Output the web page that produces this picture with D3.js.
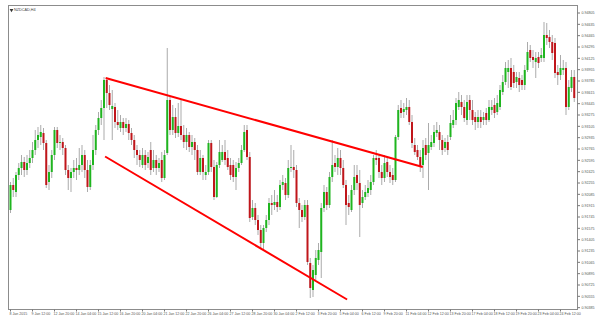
<!DOCTYPE html>
<html>
<head>
<meta charset="utf-8">
<script src="https://cdn.jsdelivr.net/npm/d3@7"></script>
<style>
  body { margin: 0; background: #fff; }
  text { font-family: Arial, "Liberation Sans", sans-serif; }
</style>
</head>
<body>
<div id="chart"></div>
<script>
// chart values
const symbol = "NZDCAD,H4";

// one label every 8 bars, first bar is 8 Jan 04:00
const timeLabels = ["8 Jan 2015", "9 Jan 12:00", "12 Jan 20:00", "14 Jan 04:00", "15 Jan 12:00",
    "16 Jan 20:00", "20 Jan 04:00", "21 Jan 12:00", "22 Jan 20:00", "26 Jan 04:00", "27 Jan 12:00",
    "28 Jan 20:00", "30 Jan 04:00", "2 Feb 12:00", "3 Feb 20:00", "5 Feb 04:00", "6 Feb 12:00",
    "9 Feb 20:00", "11 Feb 04:00", "12 Feb 12:00", "13 Feb 20:00", "17 Feb 04:00", "18 Feb 12:00",
    "19 Feb 20:00", "23 Feb 04:00", "24 Feb 12:00"];
const barsPerLabel = 8;

const priceTicks = [0.94805, 0.94635, 0.94465, 0.94295, 0.94125, 0.93955, 0.93785, 0.93615, 0.93445,
    0.93275, 0.93105, 0.92935, 0.92765, 0.92595, 0.92425, 0.92255, 0.92085, 0.91915, 0.91745,
    0.91575, 0.91405, 0.91235, 0.91065, 0.90895, 0.90725, 0.90555, 0.90385];

const open = [
    0.91850, 0.92225, 0.92120, 0.92375, 0.92480, 0.92570, 0.92450, 0.92555, 0.92630, 0.92750,
    0.92900, 0.92945, 0.93005, 0.92855, 0.92270, 0.92420, 0.92675, 0.93050, 0.92855, 0.92870,
    0.92780, 0.92450, 0.92330, 0.92420, 0.92480, 0.92450, 0.92525, 0.92675, 0.92450, 0.92195,
    0.92525, 0.92750, 0.93050, 0.93230, 0.93380, 0.93800, 0.93605, 0.93365, 0.93395, 0.93170,
    0.93080, 0.93170, 0.93080, 0.93140, 0.93005, 0.92900, 0.92750, 0.92675, 0.92525, 0.92675,
    0.92555, 0.92750, 0.92480, 0.92600, 0.92480, 0.92600, 0.92330, 0.92705, 0.93500, 0.93050,
    0.93245, 0.93005, 0.93110, 0.92975, 0.92870, 0.92975, 0.92795, 0.92870, 0.92750, 0.92420,
    0.92630, 0.92375, 0.92420, 0.92855, 0.92495, 0.92045, 0.92525, 0.92600, 0.92720, 0.92630,
    0.92525, 0.92525, 0.92345, 0.92480, 0.92555, 0.92750, 0.93050, 0.92645, 0.91745, 0.91880,
    0.91700, 0.91550, 0.91355, 0.91580, 0.91700, 0.91955, 0.91925, 0.91970, 0.91895, 0.92225,
    0.92255, 0.92075, 0.92480, 0.92495, 0.92450, 0.91955, 0.91850, 0.91745, 0.91925, 0.91055,
    0.90650, 0.90875, 0.91100, 0.91220, 0.91880, 0.92120, 0.91925, 0.92345, 0.92555, 0.92495,
    0.92630, 0.92480, 0.92225, 0.91955, 0.91850, 0.92150, 0.92375, 0.92255, 0.91955, 0.92045,
    0.92105, 0.92150, 0.92270, 0.92630, 0.92630, 0.92420, 0.92330, 0.92570, 0.92420, 0.92375,
    0.92300, 0.92945, 0.93380, 0.93320, 0.93350, 0.93395, 0.93170, 0.92825, 0.92750, 0.92645,
    0.92525, 0.92825, 0.92705, 0.92795, 0.92855, 0.93005, 0.93020, 0.92900, 0.92780, 0.92870,
    0.92945, 0.93125, 0.93200, 0.93395, 0.93470, 0.93395, 0.93200, 0.93500, 0.93350, 0.93245,
    0.93170, 0.93245, 0.93200, 0.93305, 0.93200, 0.93350, 0.93425, 0.93320, 0.93395, 0.93620,
    0.93770, 0.93920, 0.93980, 0.93920, 0.93770, 0.93830, 0.93800, 0.93725, 0.93950, 0.94250,
    0.94145, 0.94070, 0.94145, 0.94130, 0.94130, 0.94475, 0.94445, 0.94370, 0.94355, 0.93920,
    0.93875, 0.93950, 0.93980, 0.93395, 0.93680, 0.93845];

const high = [
    0.92270, 0.92330, 0.92420, 0.92555, 0.92675, 0.92645, 0.92675, 0.92750, 0.92870, 0.93050,
    0.93095, 0.93125, 0.93080, 0.92900, 0.92525, 0.92750, 0.93095, 0.93095, 0.92975, 0.92930,
    0.92825, 0.92525, 0.92480, 0.92600, 0.92630, 0.92780, 0.92825, 0.92750, 0.92600, 0.92600,
    0.92975, 0.93125, 0.93320, 0.93500, 0.93845, 0.93830, 0.93725, 0.93650, 0.93455, 0.93350,
    0.93275, 0.93230, 0.93230, 0.93200, 0.93080, 0.92975, 0.92825, 0.92750, 0.92780, 0.92750,
    0.92720, 0.92870, 0.92750, 0.92675, 0.92630, 0.92720, 0.92750, 0.94280, 0.93545, 0.93425,
    0.93380, 0.93455, 0.93500, 0.93125, 0.93080, 0.93020, 0.92975, 0.92930, 0.92825, 0.92750,
    0.92675, 0.92525, 0.92900, 0.92900, 0.92600, 0.92570, 0.92900, 0.92825, 0.92900, 0.92750,
    0.92630, 0.92600, 0.92570, 0.92630, 0.92825, 0.93125, 0.93125, 0.92720, 0.92000, 0.91955,
    0.91775, 0.91625, 0.91625, 0.91775, 0.92030, 0.92075, 0.92150, 0.92075, 0.92300, 0.92375,
    0.92330, 0.92600, 0.92825, 0.92750, 0.92525, 0.92030, 0.91925, 0.92000, 0.92000, 0.91130,
    0.91025, 0.91250, 0.91355, 0.91955, 0.92225, 0.92195, 0.92420, 0.92900, 0.92675, 0.92780,
    0.92750, 0.92600, 0.92300, 0.92075, 0.92225, 0.92525, 0.92525, 0.92450, 0.92150, 0.92225,
    0.92300, 0.92375, 0.92675, 0.92750, 0.92675, 0.92525, 0.92675, 0.92630, 0.92525, 0.92480,
    0.92975, 0.93425, 0.93500, 0.93455, 0.93530, 0.93500, 0.93275, 0.92930, 0.92825, 0.92750,
    0.92900, 0.92930, 0.93155, 0.92975, 0.93125, 0.93170, 0.93125, 0.92975, 0.92930, 0.92975,
    0.93275, 0.93350, 0.93530, 0.93620, 0.93575, 0.93500, 0.93575, 0.93575, 0.93500, 0.93320,
    0.93350, 0.93350, 0.93320, 0.93380, 0.93500, 0.93500, 0.93530, 0.93575, 0.93725, 0.93875,
    0.94070, 0.94100, 0.94130, 0.94025, 0.93920, 0.93920, 0.93875, 0.94025, 0.94370, 0.94325,
    0.94250, 0.94220, 0.94220, 0.94280, 0.94670, 0.94655, 0.94550, 0.94475, 0.94430, 0.94025,
    0.94175, 0.94100, 0.94070, 0.93800, 0.93950, 0.93950];

const low = [
    0.91805, 0.92045, 0.92045, 0.92300, 0.92375, 0.92345, 0.92375, 0.92480, 0.92555, 0.92675,
    0.92780, 0.92825, 0.92750, 0.92180, 0.92150, 0.92330, 0.92600, 0.92780, 0.92750, 0.92675,
    0.92375, 0.92150, 0.92120, 0.92330, 0.92300, 0.92375, 0.92420, 0.92330, 0.92120, 0.92150,
    0.92450, 0.92675, 0.92975, 0.93125, 0.92900, 0.93380, 0.93350, 0.92900, 0.93080, 0.93050,
    0.93020, 0.92975, 0.93020, 0.92900, 0.92825, 0.92630, 0.92525, 0.92495, 0.92480, 0.92450,
    0.92480, 0.92375, 0.92420, 0.92375, 0.92420, 0.92270, 0.92300, 0.92675, 0.92975, 0.92975,
    0.92930, 0.92945, 0.92900, 0.92780, 0.92750, 0.92720, 0.92675, 0.92600, 0.92375, 0.92375,
    0.92300, 0.92300, 0.92375, 0.92420, 0.92000, 0.92030, 0.92480, 0.92570, 0.92525, 0.92450,
    0.92300, 0.92270, 0.92150, 0.92420, 0.92525, 0.92720, 0.92600, 0.91670, 0.91700, 0.91625,
    0.91475, 0.91280, 0.91250, 0.91520, 0.91625, 0.91775, 0.91850, 0.91820, 0.91850, 0.92150,
    0.92000, 0.92030, 0.92420, 0.92330, 0.91895, 0.91580, 0.91670, 0.91700, 0.91025, 0.90530,
    0.90545, 0.90800, 0.91025, 0.90830, 0.91820, 0.91850, 0.91880, 0.92270, 0.92420, 0.92375,
    0.92375, 0.92180, 0.91625, 0.91775, 0.91820, 0.92075, 0.92150, 0.91445, 0.91880, 0.92000,
    0.92045, 0.92075, 0.92225, 0.92525, 0.92330, 0.92225, 0.92270, 0.92345, 0.92255, 0.92225,
    0.92270, 0.92900, 0.93230, 0.93230, 0.93275, 0.93125, 0.92780, 0.92675, 0.92600, 0.92420,
    0.92330, 0.92600, 0.92150, 0.92750, 0.92795, 0.92945, 0.92750, 0.92675, 0.92720, 0.92675,
    0.92900, 0.93080, 0.93125, 0.93350, 0.93275, 0.93170, 0.93125, 0.93200, 0.93125, 0.93050,
    0.93080, 0.93080, 0.93125, 0.93125, 0.93170, 0.93275, 0.93230, 0.93275, 0.93350, 0.93575,
    0.93725, 0.93680, 0.93650, 0.93680, 0.93680, 0.93620, 0.93650, 0.93650, 0.93920, 0.94070,
    0.93980, 0.93830, 0.93980, 0.94070, 0.94070, 0.94325, 0.94280, 0.94100, 0.93830, 0.93725,
    0.93800, 0.93875, 0.93275, 0.93350, 0.93620, 0.93470];

const close = [
    0.92225, 0.92150, 0.92375, 0.92480, 0.92570, 0.92450, 0.92555, 0.92630, 0.92750, 0.92900,
    0.92975, 0.93020, 0.92855, 0.92225, 0.92420, 0.92675, 0.93050, 0.92855, 0.92870, 0.92780,
    0.92450, 0.92330, 0.92420, 0.92480, 0.92450, 0.92525, 0.92675, 0.92450, 0.92195, 0.92525,
    0.92750, 0.93050, 0.93230, 0.93380, 0.93800, 0.93605, 0.93425, 0.93410, 0.93170, 0.93125,
    0.93170, 0.93080, 0.93140, 0.93005, 0.92900, 0.92750, 0.92675, 0.92600, 0.92675, 0.92525,
    0.92645, 0.92450, 0.92600, 0.92480, 0.92555, 0.92330, 0.92675, 0.93500, 0.93050, 0.93245,
    0.93005, 0.93110, 0.92975, 0.92870, 0.92975, 0.92795, 0.92870, 0.92750, 0.92420, 0.92630,
    0.92420, 0.92420, 0.92855, 0.92495, 0.92045, 0.92525, 0.92720, 0.92720, 0.92600, 0.92495,
    0.92375, 0.92345, 0.92480, 0.92555, 0.92750, 0.93020, 0.92645, 0.91730, 0.91880, 0.91700,
    0.91550, 0.91355, 0.91580, 0.91700, 0.91955, 0.91925, 0.91970, 0.91895, 0.92225, 0.92270,
    0.92075, 0.92480, 0.92495, 0.92450, 0.91955, 0.91850, 0.91745, 0.91925, 0.91070, 0.90680,
    0.90950, 0.91130, 0.91250, 0.91880, 0.92120, 0.91925, 0.92345, 0.92525, 0.92495, 0.92630,
    0.92480, 0.92225, 0.91925, 0.91895, 0.92150, 0.92345, 0.92255, 0.91925, 0.92045, 0.92120,
    0.92180, 0.92270, 0.92630, 0.92600, 0.92420, 0.92330, 0.92555, 0.92420, 0.92345, 0.92300,
    0.92945, 0.93350, 0.93305, 0.93365, 0.93395, 0.93170, 0.92855, 0.92720, 0.92645, 0.92495,
    0.92780, 0.92675, 0.92825, 0.92870, 0.93020, 0.93050, 0.92900, 0.92750, 0.92870, 0.92750,
    0.93155, 0.93200, 0.93455, 0.93500, 0.93395, 0.93230, 0.93470, 0.93350, 0.93200, 0.93170,
    0.93245, 0.93170, 0.93245, 0.93200, 0.93395, 0.93395, 0.93305, 0.93455, 0.93650, 0.93770,
    0.93980, 0.93980, 0.93695, 0.93755, 0.93845, 0.93725, 0.93725, 0.93950, 0.94220, 0.94130,
    0.94100, 0.94130, 0.94055, 0.94175, 0.94475, 0.94430, 0.94370, 0.94205, 0.93905, 0.93875,
    0.93980, 0.93980, 0.93395, 0.93695, 0.93845, 0.93530];

// trend lines drawn on the chart: [bar index, price]
const upperTrend = [[34.6, 0.93830], [149.9, 0.92495]];
const lowerTrend = [[34.4, 0.926525], [122.4, 0.905075]];

// set the dimensions of the chart
const width = 600, height = 323;
const frame = { left: 8.5, top: 5.5, right: 577.5, bottom: 309.5 };

const svg = d3.select("#chart")
    .append("svg")
    .attr("width", width)
    .attr("height", height);

const bars = open.map((o, i) => ({ i, o, h: high[i], l: low[i], c: close[i] }));

// bar index -> x, price -> y
const x = d3.scaleLinear()
    .domain([0, 200])
    .range([10.5, 560.5]);
const y = d3.scaleLinear()
    .domain([0.90365, 0.95])
    .range([309, 0]);

// frame
svg.append("rect")
    .attr("x", frame.left)
    .attr("y", frame.top)
    .attr("width", frame.right - frame.left)
    .attr("height", frame.bottom - frame.top)
    .attr("fill", "none")
    .attr("stroke", "#8c8c8c")
    .attr("stroke-width", 1);

// wicks
svg.selectAll(".wick")
    .data(bars)
    .join("line")
    .attr("class", "wick")
    .attr("x1", d => x(d.i))
    .attr("x2", d => x(d.i))
    .attr("y1", d => y(d.h))
    .attr("y2", d => y(d.l))
    .attr("stroke", "#ababab")
    .attr("stroke-width", 1);

// bodies
svg.selectAll(".body")
    .data(bars)
    .join("rect")
    .attr("class", "body")
    .attr("x", d => x(d.i) - 1)
    .attr("width", 2)
    .attr("y", d => y(Math.max(d.o, d.c)))
    .attr("height", d => Math.max(1, Math.abs(y(d.o) - y(d.c))))
    .attr("fill", d => d.c >= d.o ? "#1fb51f" : "#c0161b");

// trend lines
const line = d3.line()
    .x(d => x(d[0]))
    .y(d => y(d[1]));
svg.selectAll(".trend")
    .data([upperTrend, lowerTrend])
    .join("path")
    .attr("class", "trend")
    .attr("d", line)
    .attr("fill", "none")
    .attr("stroke", "#ff0000")
    .attr("stroke-width", 2);

// price axis on the right
const yAxis = svg.append("g");
yAxis.selectAll("line")
    .data(priceTicks)
    .join("line")
    .attr("x1", frame.right)
    .attr("x2", frame.right + 2.5)
    .attr("y1", d => y(d))
    .attr("y2", d => y(d))
    .attr("stroke", "#777");
yAxis.selectAll("text")
    .data(priceTicks)
    .join("text")
    .attr("x", frame.right + 4)
    .attr("y", d => y(d))
    .attr("dy", "0.35em")
    .attr("font-size", 3.6)
    .attr("fill", "#555")
    .text(d => d.toFixed(5));

// time axis at the bottom
const xAxis = svg.append("g");
xAxis.selectAll("line")
    .data(timeLabels)
    .join("line")
    .attr("x1", (d, k) => x(k * barsPerLabel))
    .attr("x2", (d, k) => x(k * barsPerLabel))
    .attr("y1", frame.bottom)
    .attr("y2", frame.bottom + 2)
    .attr("stroke", "#777");
xAxis.selectAll("text")
    .data(timeLabels)
    .join("text")
    .attr("x", (d, k) => x(k * barsPerLabel) - 1)
    .attr("y", 313.5)
    .attr("dy", "0.35em")
    .attr("font-size", 3.6)
    .attr("fill", "#555")
    .text(d => d);

// symbol title top left
svg.append("path")
    .attr("d", d3.symbol(d3.symbolTriangle, 6)())
    .attr("transform", "translate(11.5, 10) rotate(180)")
    .attr("fill", "#333");
svg.append("text")
    .attr("x", 14)
    .attr("y", 10)
    .attr("dy", "0.35em")
    .attr("font-size", 3.8)
    .attr("fill", "#444")
    .text(symbol);
</script>
</body>
</html>
